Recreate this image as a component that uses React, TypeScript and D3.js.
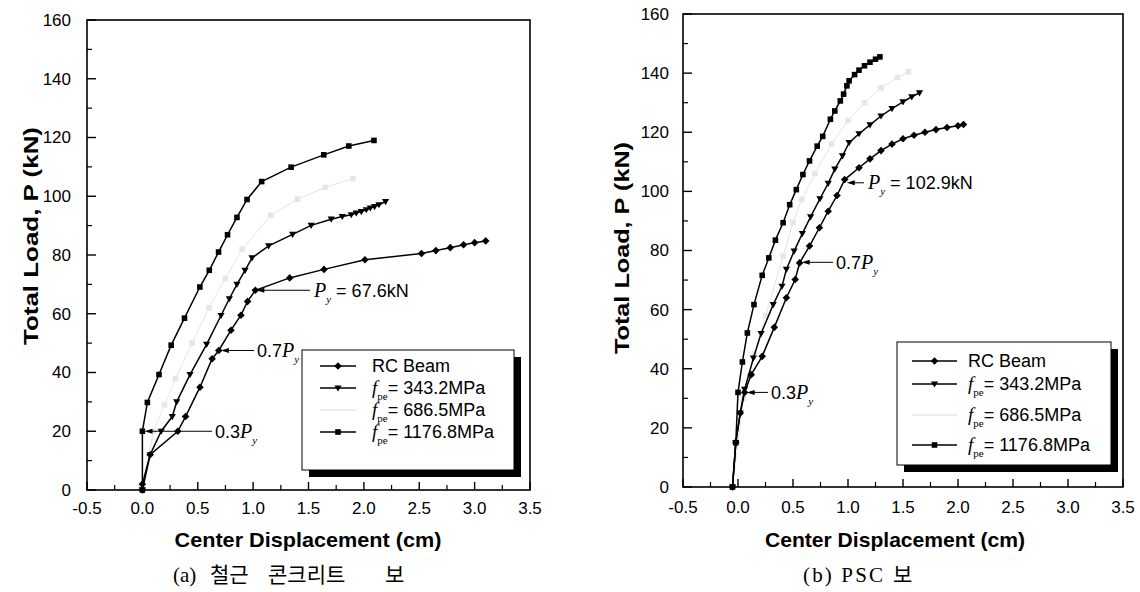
import React from 'react';
import * as d3 from 'd3';

// ---------- shared ticks / labels ----------
const xTickValues = [-0.5, 0.0, 0.5, 1.0, 1.5, 2.0, 2.5, 3.0, 3.5];
const xMinorValues = [-0.25, 0.25, 0.75, 1.25, 1.75, 2.25, 2.75, 3.25];
const yTickValues = [0, 20, 40, 60, 80, 100, 120, 140, 160];
const yMinorValues = [10, 30, 50, 70, 90, 110, 130, 150];
const legendValues = ['343.2MPa', '686.5MPa', '1176.8MPa'];

// ---------- (a) RC concrete beam ----------
const aRcX = [0, 0.0, 0.07, 0.32, 0.39, 0.52, 0.63, 0.69, 0.80, 0.89, 0.95, 1.02, 1.33, 1.64, 2.01, 2.52, 2.65, 2.78, 2.90, 3.00, 3.10];
const aRcY = [0, 2, 12, 20, 25, 35, 44.7, 47.5, 54.4, 59.5, 64.2, 68, 72.2, 75.1, 78.4, 80.5, 81.5, 82.5, 83.5, 84.2, 84.8];
const a343X = [0, 0.07, 0.17, 0.27, 0.31, 0.43, 0.58, 0.71, 0.785, 0.854, 0.927, 0.99, 1.14, 1.357, 1.524, 1.705, 1.805, 1.886, 1.931, 1.977, 2.022, 2.058, 2.097, 2.136, 2.196];
const a343Y = [0, 12, 20, 25, 30, 39.3, 49.6, 59.4, 65.1, 70, 74.8, 79, 83.1, 87, 90.1, 92.2, 93.1, 93.7, 94.3, 94.8, 95.4, 96, 96.5, 97.1, 98.2];
const a686X = [0, 0.1, 0.2, 0.3, 0.45, 0.6, 0.75, 0.9, 1.16, 1.4, 1.65, 1.9];
const a686Y = [0, 20, 29, 38, 50, 62, 72, 82, 93.5, 99, 103, 106];
const a1176X = [0, 0, 0.045, 0.15, 0.26, 0.38, 0.519, 0.604, 0.688, 0.769, 0.854, 0.945, 1.077, 1.343, 1.638, 1.864, 2.091];
const a1176Y = [0, 20, 29.8, 39.3, 49.3, 58.5, 69.1, 74.8, 81, 86.9, 92.8, 98.9, 105, 109.9, 114.1, 117.1, 119];

// ---------- (b) PSC beam ----------
const bRcX = [-0.05, -0.02, 0.02, 0.06, 0.12, 0.22, 0.33, 0.44, 0.52, 0.56, 0.65, 0.74, 0.82, 0.90, 0.97, 1.1, 1.2, 1.3, 1.4, 1.5, 1.6, 1.7, 1.8, 1.9, 2.0, 2.05];
const bRcY = [0, 15, 25, 32, 38, 44.2, 54, 64, 70.2, 75.8, 81.5, 87.7, 93.3, 98.6, 104, 108, 111, 113.8, 116, 117.8, 119, 120, 120.9, 121.6, 122.2, 122.6];
const b343X = [-0.05, -0.02, 0.02, 0.06, 0.14, 0.21, 0.32, 0.40, 0.44, 0.51, 0.585, 0.66, 0.745, 0.82, 0.88, 0.95, 1.01, 1.1, 1.2, 1.3, 1.4, 1.5, 1.58, 1.65];
const b343Y = [0, 15, 25, 33, 43.6, 51.9, 61.7, 67.9, 73.6, 79.8, 85.7, 91.4, 97.5, 102.7, 107.5, 112, 116.5, 119.5, 122.5, 125.5, 128, 130.3, 132, 133.3];
const b686X = [-0.05, 0.05, 0.15, 0.25, 0.41, 0.5, 0.58, 0.7, 0.85, 1.0, 1.15, 1.3, 1.45, 1.55];
const b686Y = [0, 30, 45, 58, 78, 89.5, 97.3, 106, 116, 124, 130, 135, 138.5, 140.5];
const b1176X = [-0.05, -0.02, 0.0, 0.04, 0.085, 0.145, 0.22, 0.28, 0.34, 0.41, 0.47, 0.53, 0.59, 0.65, 0.72, 0.77, 0.84, 0.88, 0.93, 0.96, 0.99, 1.01, 1.06, 1.1, 1.15, 1.2, 1.25, 1.29];
const b1176Y = [0, 15, 32, 42.3, 52.1, 61.7, 71.6, 77.5, 83.5, 89.4, 95.5, 100.6, 105.7, 110.3, 115.3, 118.6, 124.4, 127.2, 130.6, 132.9, 135.7, 137.4, 139.5, 141, 142.5, 143.7, 144.7, 145.5];

const SANS = 'Liberation Sans, Arial, sans-serif';
const SERIF = 'Liberation Serif, Times New Roman, serif';
const KSERIF = 'Liberation Serif, Noto Sans CJK KR, serif';
const GRAY = '#e6e6e6';

type Shape = 'diamond' | 'tri' | 'square';

function markerPath(shape: Shape, cx: number, cy: number): string {
  if (shape === 'diamond') {
    const h = 3.8;
    return `M${cx},${cy - h}L${cx + h},${cy}L${cx},${cy + h}L${cx - h},${cy}Z`;
  }
  if (shape === 'tri') {
    return `M${cx - 3.6},${cy - 2.6}L${cx + 3.6},${cy - 2.6}L${cx},${cy + 3.6}Z`;
  }
  const s = 2.8;
  return `M${cx - s},${cy - s}h${2 * s}v${2 * s}h${-2 * s}Z`;
}

interface SeriesDef { xs: number[]; ys: number[]; shape: Shape; color: string; width: number; }
interface AnnDef { tx: number; ty: number; tail: number; label: 'Py' | '0.7Py' | '0.3Py'; value?: string; }
interface Word { x: number; t: string; len?: number; }

interface PanelProps {
  left: number; right: number; top: number; bottom: number;
  series: SeriesDef[];
  anns: AnnDef[];
  legend: { x0: number; y0: number; x1: number; y1: number; lineX0: number; lineX1: number; textX: number; rows: number[] };
  yTitleX: number; yTitleY: number; yTitleLen: number;
  yLabelX: number;
  xTitleX: number; xTitleY: number; xTitleLen: number;
  xLabelY: number;
  caption: Word[]; captionY: number;
}

function Panel(p: PanelProps) {
  const x = d3.scaleLinear().domain([-0.5, 3.5]).range([p.left, p.right]);
  const y = d3.scaleLinear().domain([0, 160]).range([p.bottom, p.top]);
  const line = d3.line<[number, number]>().x(d => x(d[0])).y(d => y(d[1]));
  const legendShapes: (Shape | null)[] = ['diamond', 'tri', null, 'square'];
  const legendColors = ['#000', '#000', GRAY, '#000'];

  return (
    <g>
      <rect x={p.left} y={p.top} width={p.right - p.left} height={p.bottom - p.top} fill="none" stroke="#000" strokeWidth={1.6} />
      {xTickValues.map(v => (
        <g key={'xt' + v}>
          <line x1={x(v)} x2={x(v)} y1={p.bottom} y2={p.bottom - 8} stroke="#000" strokeWidth={1.4} />
          <text x={x(v)} y={p.xLabelY} textAnchor="middle" fontFamily={SANS} fontSize={17}>{v.toFixed(1)}</text>
        </g>
      ))}
      {xMinorValues.map(v => (
        <line key={'xm' + v} x1={x(v)} x2={x(v)} y1={p.bottom} y2={p.bottom - 5} stroke="#000" strokeWidth={1.2} />
      ))}
      {yTickValues.map(v => (
        <g key={'yt' + v}>
          <line x1={p.left} x2={p.left + 9} y1={y(v)} y2={y(v)} stroke="#000" strokeWidth={1.4} />
          <text x={p.yLabelX} y={y(v)} dy="0.35em" textAnchor="end" fontFamily={SANS} fontSize={17}>{v}</text>
        </g>
      ))}
      {yMinorValues.map(v => (
        <line key={'ym' + v} x1={p.left} x2={p.left + 5} y1={y(v)} y2={y(v)} stroke="#000" strokeWidth={1.2} />
      ))}
      <text transform={`translate(${p.yTitleX},${p.yTitleY}) rotate(-90)`} textAnchor="middle" dominantBaseline="central"
        fontFamily={SANS} fontWeight="bold" fontSize={21} textLength={p.yTitleLen} lengthAdjust="spacingAndGlyphs">Total Load, P (kN)</text>
      <text x={p.xTitleX} y={p.xTitleY} textAnchor="middle" fontFamily={SANS} fontWeight="bold" fontSize={21}
        textLength={p.xTitleLen} lengthAdjust="spacingAndGlyphs">Center Displacement (cm)</text>
      {p.caption.map((w, i) => (
        <text key={'c' + i} x={w.x} y={p.captionY} fontFamily={KSERIF} fontSize={21}
          {...(w.len ? { textLength: w.len, lengthAdjust: 'spacing' } : {})}>{w.t}</text>
      ))}

      {p.series.map((s, i) => {
        const pts: [number, number][] = s.xs.map((v, j) => [v, s.ys[j]]);
        return (
          <g key={'s' + i}>
            <path d={line(pts) || ''} fill="none" stroke={s.color} strokeWidth={s.width} />
            {pts.map((pt, j) => (
              <path key={j} d={markerPath(s.shape, x(pt[0]), y(pt[1]))} fill={s.color} />
            ))}
          </g>
        );
      })}

      {p.anns.map((a, i) => {
        const tx = x(a.tx), ty = y(a.ty);
        return (
          <g key={'a' + i}>
            <line x1={tx + 4} x2={a.tail} y1={ty} y2={ty} stroke="#000" strokeWidth={1} />
            <path d={`M${tx + 1},${ty}L${tx + 9},${ty - 2.5}L${tx + 9},${ty + 2.5}Z`} fill="#000" />
            {a.label === 'Py' ? (
              <text x={a.tail + 4} y={ty} dy="0.35em" fontFamily={SANS} fontSize={18}>
                <tspan fontFamily={SERIF} fontStyle="italic" fontSize={20}>P</tspan>
                <tspan fontFamily={SERIF} fontStyle="italic" fontSize={11} dy={6}>y</tspan>
                <tspan dy={-6}>{' = ' + a.value}</tspan>
              </text>
            ) : (
              <text x={a.tail + 3} y={ty} dy="0.35em" fontFamily={SANS} fontSize={18}>
                {a.label === '0.7Py' ? '0.7' : '0.3'}
                <tspan fontFamily={SERIF} fontStyle="italic" fontSize={20}>P</tspan>
                <tspan fontFamily={SERIF} fontStyle="italic" fontSize={11} dy={6}>y</tspan>
              </text>
            )}
          </g>
        );
      })}

      <rect x={p.legend.x0 + 7} y={p.legend.y0 + 7} width={p.legend.x1 - p.legend.x0} height={p.legend.y1 - p.legend.y0} fill="#000" />
      <rect x={p.legend.x0} y={p.legend.y0} width={p.legend.x1 - p.legend.x0} height={p.legend.y1 - p.legend.y0} fill="#fff" stroke="#000" strokeWidth={1} />
      {p.legend.rows.map((ry, i) => {
        const shape = legendShapes[i];
        const mx = (p.legend.lineX0 + p.legend.lineX1) / 2;
        return (
          <g key={'l' + i}>
            <line x1={p.legend.lineX0} x2={p.legend.lineX1} y1={ry} y2={ry} stroke={legendColors[i]} strokeWidth={1.5} />
            {shape && <path d={markerPath(shape, mx, ry)} fill="#000" />}
            {i === 0 ? (
              <text x={p.legend.textX} y={ry} dy="0.35em" fontFamily={SANS} fontSize={18}>RC Beam</text>
            ) : (
              <text x={p.legend.textX} y={ry} dy="0.35em" fontFamily={SANS} fontSize={18}>
                <tspan fontFamily={SERIF} fontStyle="italic" fontSize={19}>f</tspan>
                <tspan fontFamily={SERIF} fontSize={11} dy={6}>pe</tspan>
                <tspan dy={-6}>{'= ' + legendValues[i - 1]}</tspan>
              </text>
            )}
          </g>
        );
      })}
    </g>
  );
}

export default function App() {
  const seriesA: SeriesDef[] = [
    { xs: a686X, ys: a686Y, shape: 'square', color: GRAY, width: 1 },
    { xs: aRcX, ys: aRcY, shape: 'diamond', color: '#000', width: 1.5 },
    { xs: a343X, ys: a343Y, shape: 'tri', color: '#000', width: 1.5 },
    { xs: a1176X, ys: a1176Y, shape: 'square', color: '#000', width: 1.5 },
  ];
  const seriesB: SeriesDef[] = [
    { xs: b686X, ys: b686Y, shape: 'square', color: GRAY, width: 1 },
    { xs: bRcX, ys: bRcY, shape: 'diamond', color: '#000', width: 1.5 },
    { xs: b343X, ys: b343Y, shape: 'tri', color: '#000', width: 1.5 },
    { xs: b1176X, ys: b1176Y, shape: 'square', color: '#000', width: 1.5 },
  ];
  return (
    <svg width={1140} height={592} style={{ position: 'absolute', left: 0, top: 0, background: '#fff' }}>
      <rect x={0} y={0} width={1140} height={592} fill="#fff" />
      <Panel
        left={87} right={530} top={20} bottom={490}
        series={seriesA}
        anns={[
          { tx: 1.02, ty: 68, tail: 310, label: 'Py', value: '67.6kN' },
          { tx: 0.70, ty: 47.5, tail: 254, label: '0.7Py' },
          { tx: 0.01, ty: 20, tail: 212, label: '0.3Py' },
        ]}
        legend={{ x0: 302, y0: 350, x1: 514, y1: 470, lineX0: 320, lineX1: 356, textX: 372, rows: [366, 388, 410, 432] }}
        yTitleX={30} yTitleY={236} yTitleLen={218} yLabelX={71}
        xTitleX={308} xTitleY={547} xTitleLen={267} xLabelY={514}
        caption={[{ x: 173, t: '(a)' }, { x: 210, t: '철근' }, { x: 268, t: '콘크리트' }, { x: 385, t: '보' }]}
        captionY={582}
      />
      <Panel
        left={683} right={1123} top={14} bottom={487}
        series={seriesB}
        anns={[
          { tx: 0.98, ty: 102.9, tail: 864, label: 'Py', value: '102.9kN' },
          { tx: 0.57, ty: 76, tail: 833, label: '0.7Py' },
          { tx: 0.07, ty: 32, tail: 768, label: '0.3Py' },
        ]}
        legend={{ x0: 897, y0: 342, x1: 1111, y1: 465, lineX0: 912, lineX1: 957, textX: 968, rows: [361, 384, 415, 445] }}
        yTitleX={621} yTitleY={248} yTitleLen={212} yLabelX={669}
        xTitleX={895} xTitleY={547} xTitleLen={260} xLabelY={513}
        caption={[{ x: 803, t: '(b) PSC', len: 80 }, { x: 893, t: '보' }]}
        captionY={582}
      />
    </svg>
  );
}
